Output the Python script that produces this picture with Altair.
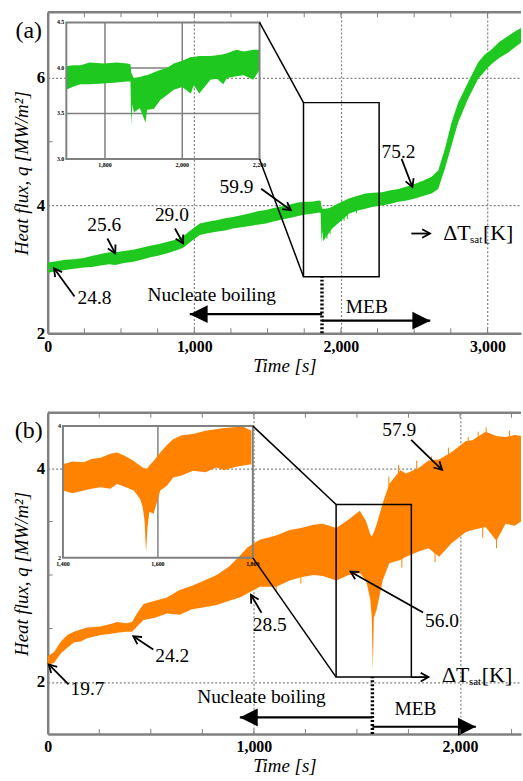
import math
import altair as alt
import pandas as pd

SERIF = "'Liberation Serif', 'Times New Roman', serif"
GREEN = "#1ec81e"
ORANGE = "#ff8200"
FRAME = "#808080"
W, H = 476, 323

# ---------------- panel (a) ----------------
A_XMAX = 3229
A_YDOM = [2.0, 7.027]
A_XTICKS = [0, 1000, 2000, 3000]
A_YTICKS = [2, 4, 6]
A_MINOR_T = [250, 500, 750, 1000, 1250, 1500, 1750, 2000, 2250, 2500, 2750, 3000]
A_MINOR_Q = [3, 5]

A_T = [0, 60, 120, 180, 246, 300, 360, 420, 461, 520, 584, 640, 700, 760, 811, 880,
       924, 980, 1037, 1100, 1150, 1210, 1263, 1320, 1380, 1430, 1489, 1540, 1600,
       1660, 1715, 1760, 1800, 1851, 1862, 1868, 1874, 1880, 1896, 1920, 1941, 1970,
       2000, 2054, 2110, 2167, 2220, 2280, 2340, 2393, 2450, 2506, 2560, 2619, 2664,
       2710, 2755, 2800, 2868, 2936, 2980, 3026, 3080, 3139, 3190, 3229]
A_HI = [3.11, 3.13, 3.15, 3.16, 3.18, 3.21, 3.24, 3.27, 3.27, 3.29, 3.31, 3.34, 3.37,
        3.40, 3.43, 3.47, 3.52, 3.62, 3.72, 3.75, 3.77, 3.80, 3.82, 3.85, 3.88, 3.91,
        3.93, 3.96, 3.99, 4.02, 4.05, 4.06, 4.06, 4.08, 4.07, 3.98, 3.95, 3.95, 3.95,
        3.96, 3.98, 4.02, 4.05, 4.11, 4.15, 4.19, 4.20, 4.21, 4.24, 4.26, 4.30, 4.34,
        4.39, 4.45, 4.55, 4.89, 5.30, 5.61, 5.93, 6.24, 6.36, 6.44, 6.56, 6.65, 6.73, 6.78]
A_LO = [2.95, 2.97, 2.99, 3.01, 3.03, 3.04, 3.06, 3.08, 3.07, 3.10, 3.12, 3.15, 3.19,
        3.22, 3.25, 3.30, 3.34, 3.44, 3.54, 3.57, 3.59, 3.61, 3.64, 3.66, 3.68, 3.70,
        3.72, 3.75, 3.78, 3.81, 3.84, 3.86, 3.87, 3.89, 3.88, 3.42, 3.60, 3.44, 3.50,
        3.58, 3.64, 3.70, 3.76, 3.87, 3.92, 3.95, 3.98, 4.00, 4.03, 4.06, 4.08, 4.11,
        4.15, 4.19, 4.26, 4.58, 4.94, 5.30, 5.67, 5.98, 6.10, 6.21, 6.31, 6.39, 6.48, 6.55]
# isolated spikes sticking out of the band: time, start, end
A_HAIR_T = [1905, 1926, 2022, 2044, 2106]
A_HAIR_Q0 = [3.60, 3.66, 3.85, 3.88, 3.95]
A_HAIR_Q1 = [3.48, 3.55, 3.76, 3.79, 3.88]

# zoomed inset of the MEB onset
A_IN_T = [1700, 1720, 1737, 1760, 1797, 1830, 1858, 1866, 1868, 1871, 1875, 1890, 1905,
          1909, 1926, 1944, 1960, 1978, 2000, 2022, 2030, 2044, 2073, 2090, 2106, 2116,
          2140, 2159, 2184, 2200]
A_IN_HI = [4.02, 4.03, 4.03, 4.06, 4.05, 4.06, 4.05, 4.04, 3.95, 3.92, 3.89, 3.90, 3.92,
           3.92, 3.95, 3.98, 4.00, 4.05, 4.08, 4.12, 4.12, 4.13, 4.13, 4.14, 4.15, 4.16,
           4.20, 4.18, 4.20, 4.20]
A_IN_LO = [3.76, 3.80, 3.82, 3.82, 3.83, 3.84, 3.85, 3.85, 3.38, 3.60, 3.51, 3.56, 3.40,
           3.54, 3.55, 3.65, 3.70, 3.76, 3.79, 3.72, 3.81, 3.72, 3.87, 3.88, 3.82, 3.89,
           3.91, 3.92, 3.87, 3.98]
A_IN_DOM_T = [1700, 2200]
A_IN_DOM_Q = [3.0, 4.5]
A_IN_WIN_T = [127, 1445]
A_IN_WIN_Q = [4.728, 6.867]
A_IN_XTICKS = [1800, 2000, 2200]
A_IN_XLABELS = ["1,800", "2,000", "2,200"]
A_IN_YTICKS = [3.0, 3.5, 4.0, 4.5]
A_IN_YLABELS = ["3.0", "3.5", "4.0", "4.5"]
A_IN_GRID_T = [1800, 2000]
A_IN_GRID_Q = [3.5, 4.0]
A_BOX_T = [1745, 2261]
A_BOX_Q = [2.887, 5.611]

A_LABELS = ["24.8", "25.6", "29.0", "59.9", "75.2"]
A_LABEL_T = [319, 386, 847, 1288, 2393]
A_LABEL_Q = [2.55, 3.70, 3.85, 4.29, 4.835]
A_ARR_T0 = [183, 407, 868, 1456, 2414]
A_ARR_Q0 = [2.576, 3.484, 3.64, 4.263, 4.73]
A_ARR_T1 = [43, 461, 924, 1659, 2488]
A_ARR_Q1 = [3.017, 3.251, 3.407, 3.927, 4.29]

A_SWITCH_T = 1871
A_NB = dict(q=2.30, tip=969, text_t=1119, text_q=2.607)
A_MEB = dict(q=2.198, tip=2610, text_t=2177, text_q=2.405)
A_DT = dict(t0=2481, t1=2608, q=3.562, text_t=2698, text_q=3.575)
A_TAG = dict(label="(a)", t=-129, q=6.73)

# ---------------- panel (b) ----------------
B_XMAX = 2296
B_YDOM = [1.514, 4.516]
B_XTICKS = [0, 1000, 2000]
B_YTICKS = [2, 4]
B_MINOR_T = [250, 500, 750, 1000, 1250, 1500, 1750, 2000, 2250]
B_MINOR_Q = [2.5, 3.0, 3.5]

B_T = [0, 31, 64, 95, 127, 160, 192, 256, 300, 337, 380, 409, 433, 465, 520, 578, 640,
       700, 760, 820, 880, 932, 970, 1029, 1108, 1174, 1228, 1290, 1335, 1400, 1460,
       1514, 1545, 1565, 1572, 1577, 1582, 1595, 1625, 1657, 1710, 1738, 1800, 1847,
       1899, 1960, 2027, 2060, 2124, 2177, 2221, 2265, 2296]
B_HI = [2.24, 2.28, 2.38, 2.44, 2.47, 2.49, 2.51, 2.52, 2.54, 2.56, 2.55, 2.56, 2.64,
        2.73, 2.76, 2.79, 2.86, 2.90, 2.95, 3.00, 3.08, 3.18, 3.26, 3.33, 3.37, 3.42,
        3.44, 3.47, 3.48, 3.44, 3.52, 3.60, 3.50, 3.38, 3.36, 3.38, 3.40, 3.47, 3.67,
        3.85, 3.98, 3.95, 4.00, 4.07, 4.08, 4.15, 4.25, 4.26, 4.34, 4.30, 4.29, 4.31, 4.30]
B_LO = [2.16, 2.18, 2.27, 2.32, 2.37, 2.38, 2.41, 2.44, 2.45, 2.46, 2.47, 2.47, 2.52,
        2.58, 2.60, 2.64, 2.63, 2.68, 2.70, 2.72, 2.76, 2.79, 2.83, 2.89, 2.89, 2.95,
        2.98, 3.00, 2.99, 2.95, 3.00, 3.02, 2.95, 2.77, 2.60, 2.10, 2.60, 2.67, 2.95,
        3.11, 3.14, 3.17, 3.22, 3.25, 3.17, 3.30, 3.40, 3.42, 3.45, 3.32, 3.48, 3.46, 3.50]
# isolated spikes sticking out of the band: time, start, end
B_HAIR_T = [1655, 1702, 1790, 1862, 1944, 2040, 2088, 2127, 2240,
            1108, 1228, 1718, 1879, 2110, 2177]
B_HAIR_Q0 = [3.80, 3.94, 3.98, 4.04, 4.11, 4.23, 4.26, 4.30, 4.27,
             2.91, 3.00, 3.17, 3.24, 3.47, 3.36]
B_HAIR_Q1 = [3.92, 4.03, 4.07, 4.11, 4.19, 4.29, 4.34, 4.38, 4.35,
             2.84, 2.92, 3.07, 3.12, 3.35, 3.25]

B_IN_T = [1400, 1420, 1444, 1460, 1479, 1500, 1514, 1530, 1549, 1562, 1568, 1572, 1575,
          1578, 1582, 1591, 1605, 1620, 1632, 1650, 1674, 1700, 1723, 1740, 1758, 1780, 1797]
B_IN_HI = [3.42, 3.46, 3.45, 3.50, 3.52, 3.58, 3.60, 3.55, 3.47, 3.40, 3.37, 3.36, 3.35,
           3.36, 3.40, 3.47, 3.60, 3.72, 3.80, 3.86, 3.88, 3.93, 3.95, 3.97, 3.98, 3.99, 3.93]
B_IN_LO = [3.02, 2.98, 3.02, 3.05, 3.07, 3.05, 3.12, 3.08, 3.02, 2.90, 2.77, 2.55, 2.09,
           2.45, 2.70, 2.67, 3.02, 3.10, 3.22, 3.25, 3.32, 3.30, 3.37, 3.33, 3.37, 3.40, 3.42]
B_IN_DOM_T = [1400, 1800]
B_IN_DOM_Q = [2.0, 4.0]
B_IN_WIN_T = [74, 995]
B_IN_WIN_Q = [3.161, 4.393]
B_IN_XTICKS = [1400, 1600, 1800]
B_IN_XLABELS = ["1,400", "1,600", "1,800"]
B_IN_YTICKS = [2.0, 4.0]
B_IN_YLABELS = ["2", "4"]
B_IN_GRID_T = [1600]
B_IN_GRID_Q = []
B_BOX_T = [1399, 1764]
B_BOX_Q = [2.046, 3.659]

B_LABELS = ["19.7", "24.2", "28.5", "56.0", "57.9"]
B_LABEL_T = [193, 604, 1077, 1913, 1705]
B_LABEL_Q = [1.932, 2.241, 2.536, 2.566, 4.353]
B_ARR_T0 = [101, 512, 1037, 1821, 1763]
B_ARR_Q0 = [1.979, 2.304, 2.647, 2.65, 4.263]
B_ARR_T1 = [5, 415, 986, 1469, 1913]
B_ARR_Q1 = [2.164, 2.427, 2.814, 3.031, 3.984]

B_SWITCH_T = 1575
B_NB = dict(q=1.669, tip=932, text_t=1037, text_q=1.858)
B_MEB = dict(q=1.582, tip=2077, text_t=1784, text_q=1.747)
B_DT = dict(t0=1764, t1=1847, q=2.046, text_t=1913, text_q=2.067)
B_TAG = dict(label="(b)", t=-92, q=4.346)

CHEVRON = "M-0.5,0.9L0,0L0.5,0.9"
HEAD_LEFT = "M0,0L2,-1L2,1Z"
HEAD_RIGHT = "M0,0L-2,-1L-2,1Z"


def to_win(vals, dom, win):
    return [win[0] + (v - dom[0]) * (win[1] - win[0]) / (dom[1] - dom[0]) for v in vals]


def build_panel(p):
    xs = alt.Scale(domain=[0, p["xmax"]], nice=False, zero=False)
    ys = alt.Scale(domain=p["ydom"], nice=False, zero=False)
    common = dict(grid=True, gridColor=FRAME, gridDash=[2, 2], gridWidth=1.2,
                  ticks=False, domainColor=FRAME, domainWidth=2.5,
                  labelFont=SERIF, labelFontWeight="bold", labelColor="black",
                  labelFlush=False, titleFont=SERIF, titleFontStyle="italic",
                  titleFontWeight="normal", titleFontSize=19, titleColor="black")
    xa = alt.Axis(values=p["xticks"], format=",d", title="Time [s]", labelFontSize=16,
                  labelPadding=5, titlePadding=2, **common)
    ya = alt.Axis(values=p["yticks"], format="d", title="Heat flux, q [MW/m²]",
                  labelFontSize=17, labelPadding=3, titlePadding=5, **common)

    def X(f):
        return alt.X(f, type="quantitative", scale=xs, axis=xa)

    def Y(f):
        return alt.Y(f, type="quantitative", scale=ys, axis=ya)

    ymin, ymax = p["ydom"]
    kx = W / p["xmax"]
    ky = H / (ymax - ymin)
    layers = []

    # measured signal: band plus the spikes that poke out of it
    main = pd.DataFrame({"t": p["t"], "hi": p["hi"], "lo": p["lo"]})
    layers.append(alt.Chart(main).mark_area(color=p["color"]).encode(
        x=X("t"), y=Y("hi"), y2="lo"))
    hair = pd.DataFrame({"t": p["hair_t"], "q": p["hair_q0"], "q2": p["hair_q1"]})
    layers.append(alt.Chart(hair).mark_rule(color=p["color"], strokeWidth=1).encode(
        x=X("t"), y=Y("q"), y2="q2"))

    # inset: frame, grid, signal, tick labels
    dt, dq, wt, wq = p["in_dom_t"], p["in_dom_q"], p["in_win_t"], p["in_win_q"]
    frame = pd.DataFrame({"t": [wt[0]], "t2": [wt[1]], "q": [wq[0]], "q2": [wq[1]]})
    grid_rows = []
    for gt in to_win(p["in_grid_t"], dt, wt):
        grid_rows.append({"t": gt, "t2": gt, "q": wq[0], "q2": wq[1]})
    for gq in to_win(p["in_grid_q"], dq, wq):
        grid_rows.append({"t": wt[0], "t2": wt[1], "q": gq, "q2": gq})
    layers.append(alt.Chart(pd.DataFrame(grid_rows)).mark_rule(
        color=FRAME, strokeWidth=1.5).encode(x=X("t"), y=Y("q"), x2="t2", y2="q2"))
    inset = pd.DataFrame({"t": to_win(p["in_t"], dt, wt),
                          "hi": to_win(p["in_hi"], dq, wq),
                          "lo": to_win(p["in_lo"], dq, wq)})
    layers.append(alt.Chart(inset).mark_area(color=p["color"]).encode(
        x=X("t"), y=Y("hi"), y2="lo"))
    layers.append(alt.Chart(frame).mark_rect(fillOpacity=0, stroke=FRAME, strokeWidth=2).encode(
        x=X("t"), x2="t2", y=Y("q"), y2="q2"))
    in_x = pd.DataFrame({"t": to_win(p["in_xticks"], dt, wt), "q": [wq[0]] * len(p["in_xticks"]),
                         "label": p["in_xlabels"]})
    layers.append(alt.Chart(in_x).mark_text(font=SERIF, fontWeight="bold", fontSize=6,
                                            baseline="top", dy=3).encode(
        x=X("t"), y=Y("q"), text="label:N"))
    in_y = pd.DataFrame({"t": [wt[0]] * len(p["in_yticks"]), "q": to_win(p["in_yticks"], dq, wq),
                         "label": p["in_ylabels"]})
    layers.append(alt.Chart(in_y).mark_text(font=SERIF, fontWeight="bold", fontSize=6,
                                            align="right", baseline="middle", dx=-2).encode(
        x=X("t"), y=Y("q"), text="label:N"))

    # zoom box and its connectors to the inset
    bt, bq = p["box_t"], p["box_q"]
    box = pd.DataFrame({"t": [bt[0]], "t2": [bt[1]], "q": [bq[0]], "q2": [bq[1]]})
    layers.append(alt.Chart(box).mark_rect(fillOpacity=0, stroke="black", strokeWidth=1.5).encode(
        x=X("t"), x2="t2", y=Y("q"), y2="q2"))
    conn = pd.DataFrame({"t": [wt[1], wt[1]], "q": [wq[1], wq[0]],
                         "t2": [bt[0], bt[0]], "q2": [bq[1], bq[0]]})
    layers.append(alt.Chart(conn).mark_rule(color="black", strokeWidth=1.5).encode(
        x=X("t"), y=Y("q"), x2="t2", y2="q2"))

    # boiling regime divider and arrows
    sw = pd.DataFrame({"t": [p["switch_t"]], "q": [ymin], "t2": [p["switch_t"]], "q2": [bq[0]]})
    layers.append(alt.Chart(sw).mark_rule(color="black", strokeWidth=3.5, strokeDash=[2, 2]).encode(
        x=X("t"), y=Y("q"), x2="t2", y2="q2"))
    nb, meb = p["nb"], p["meb"]
    reg = pd.DataFrame({"t": [p["switch_t"], p["switch_t"]], "q": [nb["q"], meb["q"]],
                        "t2": [nb["tip"], meb["tip"]], "q2": [nb["q"], meb["q"]]})
    layers.append(alt.Chart(reg).mark_rule(color="black", strokeWidth=2.2).encode(
        x=X("t"), y=Y("q"), x2="t2", y2="q2"))
    for d, shape in ((nb, HEAD_LEFT), (meb, HEAD_RIGHT)):
        layers.append(alt.Chart(pd.DataFrame({"t": [d["tip"]], "q": [d["q"]]})).mark_point(
            shape=shape, filled=True, size=324, color="black", opacity=1).encode(
            x=X("t"), y=Y("q")))
    reg_txt = pd.DataFrame({"t": [nb["text_t"], meb["text_t"]], "q": [nb["text_q"], meb["text_q"]],
                            "label": ["Nucleate boiling", "MEB"]})
    layers.append(alt.Chart(reg_txt).mark_text(font=SERIF, fontSize=19.5, baseline="middle").encode(
        x=X("t"), y=Y("q"), text="label:N"))

    # ΔTsat call-outs
    dtk = p["dt"]
    t0 = p["arr_t0"] + [dtk["t0"]]
    q0 = p["arr_q0"] + [dtk["q"]]
    t1 = p["arr_t1"] + [dtk["t1"]]
    q1 = p["arr_q1"] + [dtk["q"]]
    ang = [math.degrees(math.atan2((b - a) * kx, (d - c) * ky)) % 360
           for a, b, c, d in zip(t0, t1, q0, q1)]
    arr = pd.DataFrame({"t": t0, "q": q0, "t2": t1, "q2": q1, "ang": ang})
    layers.append(alt.Chart(arr).mark_rule(color="black", strokeWidth=1.8).encode(
        x=X("t"), y=Y("q"), x2="t2", y2="q2"))
    layers.append(alt.Chart(arr).mark_point(shape=CHEVRON, filled=False, size=300, color="black",
                                            strokeWidth=1.8, opacity=1).encode(
        x=X("t2"), y=Y("q2"), angle=alt.Angle("ang:Q", scale=None)))
    lab = pd.DataFrame({"t": p["label_t"], "q": p["label_q"], "label": p["labels"]})
    layers.append(alt.Chart(lab).mark_text(font=SERIF, fontSize=19.5, baseline="middle").encode(
        x=X("t"), y=Y("q"), text="label:N"))
    key = pd.DataFrame({"t": [dtk["text_t"]] * 3, "q": [dtk["text_q"]] * 3,
                        "label": ["ΔT", "sat", "[K]"], "dx": [0, 27, 40],
                        "dy": [0, 7, 0], "size": [22, 11, 22]})
    for i in range(3):
        row = key.iloc[[i]]
        layers.append(alt.Chart(row).mark_text(
            font=SERIF, fontSize=int(row["size"].iloc[0]), align="left", baseline="middle",
            dx=int(row["dx"].iloc[0]), dy=int(row["dy"].iloc[0])).encode(
            x=X("t"), y=Y("q"), text="label:N"))

    # panel tag
    tag = pd.DataFrame({"t": [p["tag"]["t"]], "q": [p["tag"]["q"]], "label": [p["tag"]["label"]]})
    layers.append(alt.Chart(tag).mark_text(font=SERIF, fontSize=24, baseline="middle").encode(
        x=X("t"), y=Y("q"), text="label:N"))

    # top edge of the frame and inward minor ticks
    top = pd.DataFrame({"t": [0], "t2": [p["xmax"]], "q": [ymax], "q2": [ymax]})
    layers.append(alt.Chart(top).mark_rule(color=FRAME, strokeWidth=2.5).encode(
        x=X("t"), y=Y("q"), x2="t2", y2="q2"))
    mt = pd.DataFrame({"t": p["minor_t"] * 2,
                       "q": [ymin] * len(p["minor_t"]) + [ymax] * len(p["minor_t"])})
    layers.append(alt.Chart(mt).mark_tick(orient="vertical", size=10, thickness=1,
                                          color=FRAME, clip=True, opacity=1).encode(
        x=X("t"), y=Y("q")))
    mq = pd.DataFrame({"t": [0] * len(p["minor_q"]), "q": p["minor_q"]})
    layers.append(alt.Chart(mq).mark_tick(orient="horizontal", size=10, thickness=1,
                                          color=FRAME, clip=True, opacity=1).encode(
        x=X("t"), y=Y("q")))

    return alt.layer(*layers).properties(width=W, height=H)


panel_a = build_panel(dict(
    xmax=A_XMAX, ydom=A_YDOM, xticks=A_XTICKS, yticks=A_YTICKS, minor_t=A_MINOR_T,
    minor_q=A_MINOR_Q, t=A_T, hi=A_HI, lo=A_LO, color=GREEN,
    hair_t=A_HAIR_T, hair_q0=A_HAIR_Q0, hair_q1=A_HAIR_Q1,
    in_t=A_IN_T, in_hi=A_IN_HI, in_lo=A_IN_LO, in_dom_t=A_IN_DOM_T, in_dom_q=A_IN_DOM_Q,
    in_win_t=A_IN_WIN_T, in_win_q=A_IN_WIN_Q, in_xticks=A_IN_XTICKS, in_xlabels=A_IN_XLABELS,
    in_yticks=A_IN_YTICKS, in_ylabels=A_IN_YLABELS, in_grid_t=A_IN_GRID_T,
    in_grid_q=A_IN_GRID_Q, box_t=A_BOX_T, box_q=A_BOX_Q, labels=A_LABELS,
    label_t=A_LABEL_T, label_q=A_LABEL_Q, arr_t0=A_ARR_T0, arr_q0=A_ARR_Q0,
    arr_t1=A_ARR_T1, arr_q1=A_ARR_Q1, switch_t=A_SWITCH_T, nb=A_NB, meb=A_MEB,
    dt=A_DT, tag=A_TAG))

panel_b = build_panel(dict(
    xmax=B_XMAX, ydom=B_YDOM, xticks=B_XTICKS, yticks=B_YTICKS, minor_t=B_MINOR_T,
    minor_q=B_MINOR_Q, t=B_T, hi=B_HI, lo=B_LO, color=ORANGE,
    hair_t=B_HAIR_T, hair_q0=B_HAIR_Q0, hair_q1=B_HAIR_Q1,
    in_t=B_IN_T, in_hi=B_IN_HI, in_lo=B_IN_LO, in_dom_t=B_IN_DOM_T, in_dom_q=B_IN_DOM_Q,
    in_win_t=B_IN_WIN_T, in_win_q=B_IN_WIN_Q, in_xticks=B_IN_XTICKS, in_xlabels=B_IN_XLABELS,
    in_yticks=B_IN_YTICKS, in_ylabels=B_IN_YLABELS, in_grid_t=B_IN_GRID_T,
    in_grid_q=B_IN_GRID_Q, box_t=B_BOX_T, box_q=B_BOX_Q, labels=B_LABELS,
    label_t=B_LABEL_T, label_q=B_LABEL_Q, arr_t0=B_ARR_T0, arr_q0=B_ARR_Q0,
    arr_t1=B_ARR_T1, arr_q1=B_ARR_Q1, switch_t=B_SWITCH_T, nb=B_NB, meb=B_MEB,
    dt=B_DT, tag=B_TAG))

chart = alt.vconcat(panel_a, panel_b, spacing=80, bounds="flush").properties(
    padding={"left": 12, "top": 8, "right": 0, "bottom": 0},
    background="white",
).configure_view(strokeWidth=0)

chart.save("out.html", embed_options={"renderer": "svg", "actions": False})
